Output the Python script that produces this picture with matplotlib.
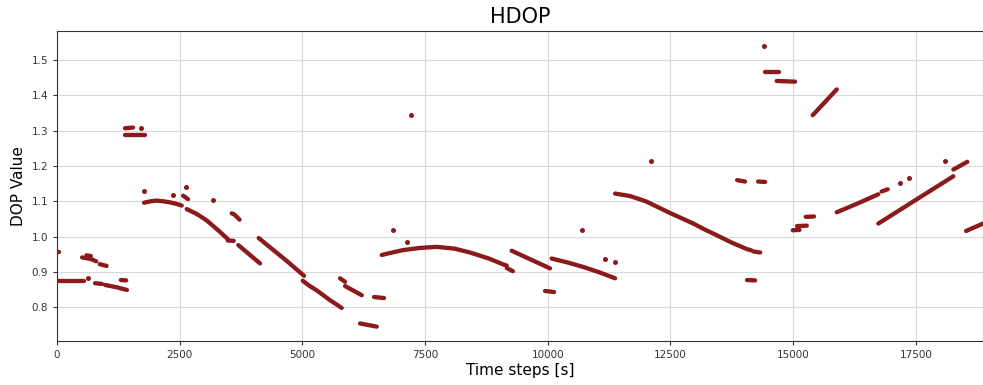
import matplotlib
matplotlib.use("Agg")
import matplotlib.pyplot as plt

# ---- data: continuous runs of HDOP samples (time [s], value) ----
seg_times = [
    [0, 40], [0, 555], [510, 600, 700, 800], [600, 690], [870, 1010],
    [775, 915], [980, 1200, 1425], [1300, 1410],
    [1385, 1550], [1385, 1800],
    [1773, 1900, 2031, 2170, 2303, 2430, 2541], [2570, 2670],
    [2643, 2850, 3050, 3300, 3480], [3480, 3600], [3560, 3620, 3720],
    [3695, 4137], [4110, 4400, 4700, 5034],
    [5007, 5150, 5300, 5563, 5802], [5767, 5870], [5870, 6210], [6175, 6515], [6460, 6664],
    [6617, 6800, 7058, 7400, 7738, 8100, 8417, 8800, 9096, 9165], [9165, 9290],
    [9265, 10047], [9945, 10130], [10080, 10400, 10726, 11050, 11372],
    [11372, 11677, 12000, 12492, 12967, 13200, 13443, 13750, 14054, 14150], [14190, 14330],
    [13860, 14020], [14285, 14430], [14060, 14225],
    [14420, 14713], [14666, 15040],
    [14993, 15130], [15080, 15280], [15257, 15427],
    [15400, 15889], [15889, 16300, 16737], [16805, 16927],
    [16737, 17500, 18266], [18266, 18551], [18525, 18870],
]
seg_values = [
    [0.956, 0.956], [0.874, 0.874], [0.941, 0.939, 0.936, 0.930], [0.947, 0.945], [0.922, 0.917],
    [0.868, 0.866], [0.863, 0.857, 0.849], [0.877, 0.876],
    [1.307, 1.309], [1.287, 1.287],
    [1.096, 1.100, 1.102, 1.100, 1.097, 1.093, 1.088], [1.116, 1.106],
    [1.078, 1.064, 1.046, 1.016, 0.993], [0.989, 0.988], [1.066, 1.062, 1.048],
    [0.976, 0.924], [0.996, 0.963, 0.929, 0.889],
    [0.875, 0.860, 0.847, 0.820, 0.798], [0.882, 0.872], [0.860, 0.834], [0.754, 0.745], [0.829, 0.826],
    [0.948, 0.954, 0.962, 0.968, 0.971, 0.966, 0.955, 0.938, 0.921, 0.918], [0.911, 0.902],
    [0.960, 0.910], [0.846, 0.843], [0.938, 0.927, 0.914, 0.899, 0.882],
    [1.122, 1.115, 1.100, 1.067, 1.037, 1.020, 1.004, 0.983, 0.965, 0.961], [0.958, 0.955],
    [1.160, 1.156], [1.156, 1.155], [0.877, 0.876],
    [1.467, 1.467], [1.441, 1.439],
    [1.018, 1.019], [1.030, 1.031], [1.056, 1.057],
    [1.344, 1.417], [1.069, 1.093, 1.120], [1.128, 1.134],
    [1.037, 1.104, 1.171], [1.190, 1.212], [1.016, 1.037],
]
# isolated samples
dot_times = [640, 1705, 1773, 2370, 2622, 3186, 6855, 7126, 7214,
             10692, 11168, 11372, 12099, 14408, 17180, 17363, 18097]
dot_values = [0.882, 1.308, 1.128, 1.119, 1.140, 1.105, 1.018, 0.985, 1.344,
              1.018, 0.936, 0.928, 1.215, 1.541, 1.152, 1.165, 1.214]

color = "#8b1a1a"

fig = plt.figure(figsize=(9.83, 3.85), dpi=100)
ax = fig.add_axes([0.058, 0.114, 0.942, 0.805])

for t, v in zip(seg_times, seg_values):
    ax.plot(t, v, color=color, lw=3.1, solid_capstyle="round",
            solid_joinstyle="round", zorder=3)
ax.plot(dot_times, dot_values, "o", color=color, ms=3.6, mew=0, zorder=3)

ax.set_xlim(0, 18870)
ax.set_ylim(0.704, 1.582)
ax.set_xticks([0, 2500, 5000, 7500, 10000, 12500, 15000, 17500])
ax.set_yticks([0.8, 0.9, 1.0, 1.1, 1.2, 1.3, 1.4, 1.5])
ax.grid(True, color="#d9d9d9", lw=0.8)
ax.set_axisbelow(True)
ax.tick_params(labelsize=7.5, colors="#333333", length=3)
for s in ax.spines.values():
    s.set_color("#333333")
ax.set_title("HDOP", fontsize=15)
ax.set_xlabel("Time steps [s]", fontsize=11, labelpad=2)
ax.set_ylabel("DOP Value", fontsize=11)

fig.savefig("out.png", dpi=100)
